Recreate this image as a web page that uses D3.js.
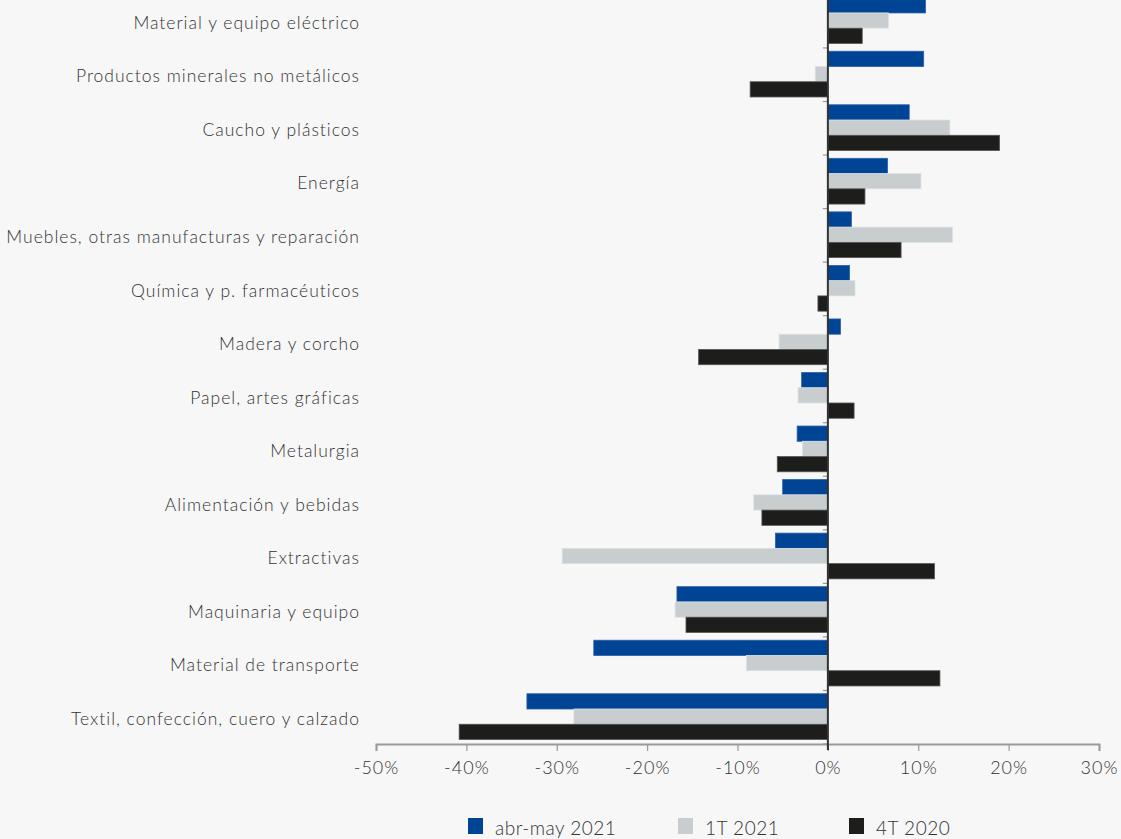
<!DOCTYPE html>
<html>
<head>
<meta charset="utf-8">
<script src="https://cdn.jsdelivr.net/npm/d3@7"></script>
<style>
html,body{margin:0;padding:0;background:#f7f7f7;}
svg{display:block;}
text{font-family:"Lato","Open Sans",sans-serif;font-weight:300;fill:#333;}
</style>
</head>
<body>
<svg id="chart" width="1121" height="839"></svg>
<script>
const categories = [
  "Material y equipo eléctrico",
  "Productos minerales no metálicos",
  "Caucho y plásticos",
  "Energía",
  "Muebles, otras manufacturas y reparación",
  "Química y p. farmacéuticos",
  "Madera y corcho",
  "Papel, artes gráficas",
  "Metalurgia",
  "Alimentación y bebidas",
  "Extractivas",
  "Maquinaria y equipo",
  "Material de transporte",
  "Textil, confección, cuero y calzado"
];
const seriesNames = ["abr-may 2021", "1T 2021", "4T 2020"];
const abrMay2021 = [10.8, 10.6, 9.0, 6.6, 2.6, 2.4, 1.4, -2.9, -3.4, -5.0, -5.8, -16.7, -25.9, -33.3];
const t1_2021    = [6.7, -1.4, 13.5, 10.3, 13.8, 3.0, -5.4, -3.3, -2.8, -8.2, -29.4, -16.9, -9.0, -28.1];
const t4_2020    = [3.8, -8.6, 19.0, 4.1, 8.1, -1.1, -14.3, 2.9, -5.6, -7.3, 11.8, -15.7, 12.4, -40.8];
const xTicks = [-50, -40, -30, -20, -10, 0, 10, 20, 30];
const colors = ["#004496", "#c8cdd0", "#1d1d1b"];
const strokes = ["#2a5fa8", "#dde1e3", "#555"];

const svg = d3.select("#chart");
const x = d3.scaleLinear().domain([-50, 30]).range([376, 1099]);
const y = d3.scaleBand().domain(categories).range([-5.6, 744]).paddingInner(0).paddingOuter(0);
const yIn = d3.scaleBand().domain([0,1,2]).range([3.3, y.bandwidth() - 4.5]).padding(0);

const allSeries = [abrMay2021, t1_2021, t4_2020];

// y category ticks (left of zero)
svg.append("g").selectAll("line")
  .data(d3.range(categories.length + 1))
  .join("line")
  .attr("x1", x(0) - 5).attr("x2", x(0))
  .attr("y1", i => -5.6 + i * y.bandwidth())
  .attr("y2", i => -5.6 + i * y.bandwidth())
  .attr("stroke", "#999").attr("stroke-width", 1.2);

// bars
allSeries.forEach((vals, s) => {
  svg.append("g").selectAll("rect")
    .data(vals)
    .join("rect")
    .attr("x", d => x(Math.min(0, d)))
    .attr("width", d => Math.abs(x(d) - x(0)))
    .attr("y", (d, i) => y(categories[i]) + yIn(s))
    .attr("height", yIn.bandwidth())
    .attr("fill", colors[s])
    .attr("stroke", strokes[s]).attr("stroke-width", 0.8);
});

// x axis
const xAxis = d3.axisBottom(x).tickValues(xTicks).tickFormat(d => d + "%").tickSize(7).tickPadding(10);
const gx = svg.append("g").attr("transform", "translate(0,744)").call(xAxis);
gx.select(".domain").attr("stroke", "#999").attr("stroke-width", 2);
gx.selectAll(".tick line").attr("stroke", "#999").attr("stroke-width", 1.2);
gx.selectAll(".tick text").attr("font-size", 18).attr("fill", "#333")
  .style("font-family", '"Lato","Open Sans",sans-serif').style("font-weight", 300)
  .style("letter-spacing", "1px");

// zero line
svg.append("line")
  .attr("x1", x(0)).attr("x2", x(0)).attr("y1", 0).attr("y2", 750)
  .attr("stroke", "#333").attr("stroke-width", 2);

// category labels
svg.append("g").selectAll("text")
  .data(categories)
  .join("text")
  .attr("x", 360)
  .attr("y", d => y(d) + y.bandwidth() / 2 + 1.5)
  .attr("dy", "0.35em")
  .attr("text-anchor", "end")
  .attr("font-size", 17.5)
  .style("letter-spacing", "1px")
  .text(d => d);

// legend
const legendX = [468, 678, 849];
const lg = svg.append("g");
seriesNames.forEach((n, i) => {
  lg.append("rect").attr("x", legendX[i]).attr("y", 818).attr("width", 15).attr("height", 16).attr("fill", colors[i]);
  lg.append("text").attr("x", legendX[i] + 27).attr("y", 835).attr("font-size", 19)
    .style("letter-spacing", "0.5px").text(n);
});
</script>
</body>
</html>
